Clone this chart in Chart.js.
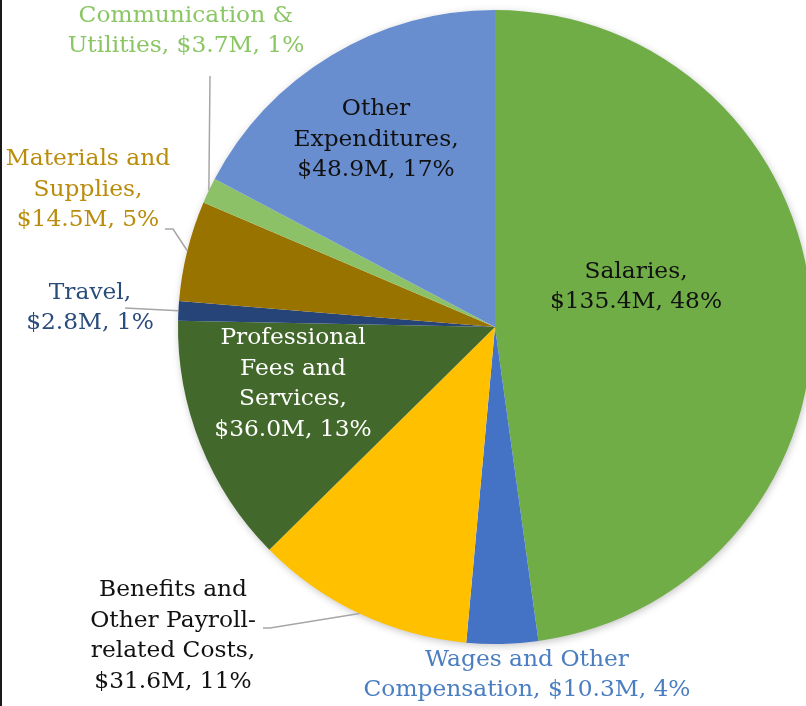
<!DOCTYPE html>
<html>
<head>
<meta charset="utf-8">
<script src="https://cdn.jsdelivr.net/npm/chart.js@4"></script>
<style>
    html, body { margin: 0; padding: 0; background: #fff; overflow: hidden; }
    #wrap { position: relative; width: 806px; height: 706px; overflow: hidden; }
    #edge { position: absolute; left: 0; top: 0; width: 2px; height: 706px; background: #1a1a1a; }
</style>
</head>
<body>
<div id="wrap">
    <canvas id="budget-pie" width="820" height="706"></canvas>
    <div id="edge"></div>
</div>
<script>
// Data
const categories = [
    'Salaries',
    'Wages and Other Compensation',
    'Benefits and Other Payroll-related Costs',
    'Professional Fees and Services',
    'Travel',
    'Materials and Supplies',
    'Communication & Utilities',
    'Other Expenditures'
];
const amounts = [135.4, 10.3, 31.6, 36.0, 2.8, 14.5, 3.7, 48.9]; // $ millions

// Styles
const sliceColors = ['#70AD47', '#4472C4', '#FFC000', '#43682B', '#264478', '#997300', '#8CC168', '#698ED0'];
const labelColors = ['#111111', '#4A7EC0', '#111111', '#FFFFFF', '#2A4C7A', '#BA8C0C', '#8BC665', '#111111'];

// Label layout: block centre, wrap width, optional leader (start + elbow)
const labelLayout = [
    { x: 636, y: 287, wrap: 200 },
    { x: 527, y: 675, wrap: 340 },
    { x: 173, y: 636, wrap: 178, leader: [[263, 628], [270, 628]] },
    { x: 293, y: 384, wrap: 165 },
    { x: 90,  y: 308, wrap: 130, leader: [[125, 308]] },
    { x: 88,  y: 190, wrap: 172, leader: [[165, 229], [173, 229]] },
    { x: 186, y: 31,  wrap: 240, leader: [[210, 76]] },
    { x: 376, y: 140, wrap: 180 }
];

const fontFamily = '"DejaVu Serif", serif';
const fontSize = 22.5;
const labelFont = fontSize + 'px ' + fontFamily;
const lineHeight = 30.5;

// squeeze the glyphs a little so the widest line matches the picture
const measureCtx = document.createElement('canvas').getContext('2d');
measureCtx.font = labelFont;
const squeeze = 327 / measureCtx.measureText('Compensation, $10.3M, 4%').width;

const total = amounts.reduce((a, b) => a + b, 0);

function labelText(i) {
    const pct = Math.round(amounts[i] / total * 100);
    return categories[i] + ', $' + amounts[i].toFixed(1) + 'M, ' + pct + '%';
}

// greedy word wrap, also allows a break after a hyphen
function wrapText(ctx, text, maxWidth) {
    const tokens = text.match(/[^\s-]+-?|\s+/g);
    const lines = [];
    let line = '';
    tokens.forEach(tok => {
        if (/^\s+$/.test(tok)) {
            if (line) line += ' ';
            return;
        }
        const trial = line + tok;
        if (line.trim() && ctx.measureText(trial.trim()).width * squeeze > maxWidth) {
            lines.push(line.trim());
            line = tok;
        } else {
            line = trial;
        }
    });
    if (line.trim()) lines.push(line.trim());
    return lines;
}

const sliceLabels = {
    id: 'sliceLabels',
    beforeDatasetsDraw(chart) {
        // soft shadow behind the pie
        const arc = chart.getDatasetMeta(0).data[0];
        const ctx = chart.ctx;
        ctx.save();
        ctx.shadowColor = 'rgba(0, 0, 0, 0.28)';
        ctx.shadowBlur = 8;
        ctx.shadowOffsetX = 1;
        ctx.shadowOffsetY = 2;
        ctx.fillStyle = '#ffffff';
        ctx.beginPath();
        ctx.arc(arc.x, arc.y, arc.outerRadius - 1, 0, Math.PI * 2);
        ctx.fill();
        ctx.restore();
    },
    afterDatasetsDraw(chart) {
        const ctx = chart.ctx;
        const meta = chart.getDatasetMeta(0);
        ctx.save();
        ctx.font = labelFont;
        ctx.textAlign = 'center';
        ctx.textBaseline = 'middle';

        meta.data.forEach((arc, i) => {
            const layout = labelLayout[i];

            // Leader line to the slice edge
            if (layout.leader) {
                const mid = (arc.startAngle + arc.endAngle) / 2;
                const ex = arc.x + Math.cos(mid) * arc.outerRadius;
                const ey = arc.y + Math.sin(mid) * arc.outerRadius;
                ctx.strokeStyle = '#A6A6A6';
                ctx.lineWidth = 1.5;
                ctx.beginPath();
                layout.leader.forEach((p, k) => k === 0 ? ctx.moveTo(p[0], p[1]) : ctx.lineTo(p[0], p[1]));
                ctx.lineTo(ex, ey);
                ctx.stroke();
            }

            // Text
            const lines = wrapText(ctx, labelText(i), layout.wrap);
            const top = layout.y - (lines.length - 1) * lineHeight / 2;
            ctx.fillStyle = labelColors[i];
            lines.forEach((ln, k) => {
                ctx.save();
                ctx.translate(layout.x, top + k * lineHeight);
                ctx.scale(squeeze, 1);
                ctx.fillText(ln, 0, 0);
                ctx.restore();
            });
        });
        ctx.restore();
    }
};

const budgetChart = new Chart(
    document.getElementById('budget-pie').getContext('2d'),
    {
        type: 'pie',
        data: {
            labels: categories,
            datasets: [{
                data: amounts,
                backgroundColor: sliceColors,
                borderWidth: 0,
                hoverOffset: 0,
                offset: 0
            }]
        },
        options: {
            responsive: false,
            devicePixelRatio: 1,
            animation: false,
            events: [],
            layout: {
                padding: { left: 178, top: 10, right: 8, bottom: 62 }
            },
            plugins: {
                legend: { display: false },
                tooltip: { enabled: false }
            }
        },
        plugins: [sliceLabels]
    }
);
</script>
</body>
</html>
